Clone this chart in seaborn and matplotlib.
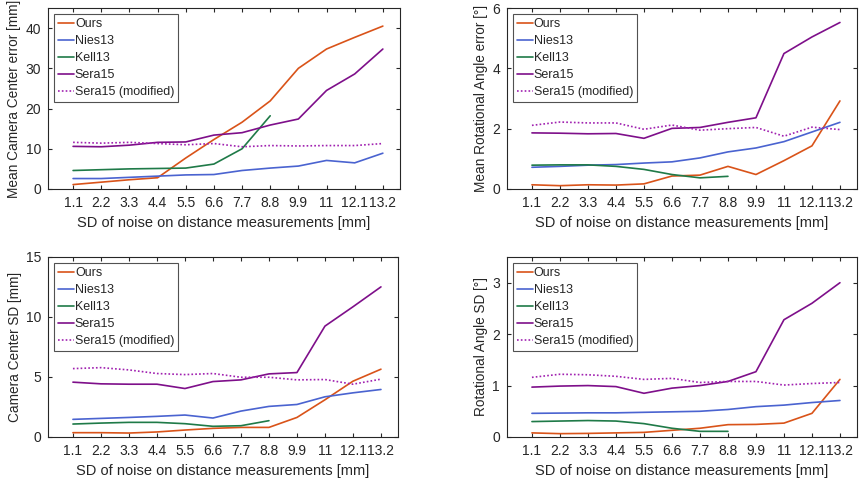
import matplotlib
matplotlib.use("Agg")
import matplotlib.pyplot as plt
import numpy as np
import seaborn as sns

# ── Data ────────────────────────────────────────────────────────────────
noise_sd = [1.1, 2.2, 3.3, 4.4, 5.5, 6.6, 7.7, 8.8, 9.9, 11.0, 12.1, 13.2]
tick_labels = ["1.1", "2.2", "3.3", "4.4", "5.5", "6.6", "7.7", "8.8",
               "9.9", "11", "12.1", "13.2"]

methods = ["Ours", "Nies13", "Kell13", "Sera15", "Sera15 (modified)"]

# Mean camera center error [mm]
cc_mean_ours = [1.1, 1.7, 2.3, 2.8, 7.7, 12.3, 16.6, 21.9, 30.0, 34.8, 37.7, 40.5]
cc_mean_nies = [2.6, 2.6, 2.9, 3.2, 3.5, 3.6, 4.6, 5.2, 5.7, 7.1, 6.5, 8.9]
cc_mean_kell = [4.6, 4.8, 5.0, 5.1, 5.2, 6.2, 10.0, 18.2]
cc_mean_sera = [10.6, 10.5, 10.9, 11.6, 11.7, 13.4, 14.0, 15.9, 17.4, 24.5, 28.6, 34.8]
cc_mean_seram = [11.6, 11.4, 11.6, 11.3, 11.0, 11.3, 10.5, 10.8, 10.7, 10.8, 10.8, 11.3]

# Mean rotational angle error [deg]
ra_mean_ours = [0.14, 0.11, 0.14, 0.13, 0.17, 0.43, 0.46, 0.75, 0.48, 0.94, 1.43, 2.92]
ra_mean_nies = [0.72, 0.75, 0.79, 0.81, 0.86, 0.90, 1.03, 1.23, 1.36, 1.57, 1.89, 2.21]
ra_mean_kell = [0.79, 0.80, 0.80, 0.75, 0.65, 0.48, 0.37, 0.42]
ra_mean_sera = [1.86, 1.85, 1.83, 1.84, 1.68, 2.01, 2.04, 2.21, 2.36, 4.49, 5.04, 5.52]
ra_mean_seram = [2.11, 2.22, 2.19, 2.19, 1.98, 2.12, 1.95, 2.00, 2.04, 1.75, 2.05, 1.97]

# Camera center SD [mm]
cc_sd_ours = [0.36, 0.36, 0.33, 0.42, 0.58, 0.72, 0.80, 0.80, 1.63, 3.1, 4.65, 5.65]
cc_sd_nies = [1.47, 1.55, 1.63, 1.72, 1.83, 1.58, 2.16, 2.55, 2.71, 3.35, 3.68, 3.96]
cc_sd_kell = [1.08, 1.16, 1.22, 1.22, 1.11, 0.89, 0.94, 1.36]
cc_sd_sera = [4.57, 4.43, 4.40, 4.40, 4.04, 4.62, 4.76, 5.26, 5.37, 9.24, 10.85, 12.51]
cc_sd_seram = [5.70, 5.78, 5.59, 5.29, 5.20, 5.29, 4.98, 4.98, 4.76, 4.79, 4.40, 4.82]

# Rotational angle SD [deg]
ra_sd_ours = [0.08, 0.065, 0.07, 0.08, 0.09, 0.13, 0.17, 0.24, 0.245, 0.27, 0.46, 1.12]
ra_sd_nies = [0.46, 0.465, 0.47, 0.47, 0.48, 0.49, 0.50, 0.535, 0.59, 0.62, 0.67, 0.71]
ra_sd_kell = [0.30, 0.31, 0.32, 0.31, 0.26, 0.17, 0.11, 0.11]
ra_sd_sera = [0.97, 0.99, 1.00, 0.98, 0.85, 0.95, 1.00, 1.08, 1.27, 2.28, 2.60, 3.00]
ra_sd_seram = [1.16, 1.22, 1.21, 1.18, 1.12, 1.14, 1.06, 1.08, 1.08, 1.01, 1.04, 1.06]

panels = [
    ("Mean Camera Center error [mm]",
     [cc_mean_ours, cc_mean_nies, cc_mean_kell, cc_mean_sera, cc_mean_seram],
     (0, 45), [0, 10, 20, 30, 40]),
    ("Mean Rotational Angle error [°]",
     [ra_mean_ours, ra_mean_nies, ra_mean_kell, ra_mean_sera, ra_mean_seram],
     (0, 6), [0, 2, 4, 6]),
    ("Camera Center SD [mm]",
     [cc_sd_ours, cc_sd_nies, cc_sd_kell, cc_sd_sera, cc_sd_seram],
     (0, 15), [0, 5, 10, 15]),
    ("Rotational Angle SD [°]",
     [ra_sd_ours, ra_sd_nies, ra_sd_kell, ra_sd_sera, ra_sd_seram],
     (0, 3.5), [0, 1, 2, 3]),
]

# ── Style ───────────────────────────────────────────────────────────────
sns.set_theme(style="white")
plt.rcParams["font.family"] = ["Liberation Sans", "DejaVu Sans"]
text_col = "#262626"
plt.rcParams.update({
    "text.color": text_col, "axes.labelcolor": text_col,
    "xtick.color": text_col, "ytick.color": text_col,
    "axes.edgecolor": text_col,
})

colors = ["#D95319", "#4A63D0", "#1F7A48", "#7E0F8A", "#A020B0"]
styles = ["-", "-", "-", "-", (0, (1, 1.3))]

W, H = 859, 480
fig = plt.figure(figsize=(W / 100, H / 100), dpi=100)

# pixel boxes: left, right, top, bottom
boxes = [(48, 400, 8, 189), (507, 857, 8, 189),
         (48, 398, 257, 437), (507, 857, 257, 437)]

for (ylabel, series, ylim, yticks), (l, r, t, b) in zip(panels, boxes):
    ax = fig.add_axes([l / W, 1 - b / H, (r - l) / W, (b - t) / H])
    for name, vals, c, ls in zip(methods, series, colors, styles):
        sns.lineplot(x=noise_sd[:len(vals)], y=vals, ax=ax, color=c,
                     linestyle=ls, linewidth=1.2, label=name)
    ax.set_xlim(0.12, 13.87)
    ax.set_ylim(*ylim)
    ax.set_xticks(noise_sd)
    ax.set_xticklabels(tick_labels)
    ax.set_yticks(yticks)
    ax.tick_params(direction="in", length=3, width=0.8, labelsize=10,
                   top=True, right=True, bottom=True, left=True, pad=5)
    for sp in ax.spines.values():
        sp.set_linewidth(0.8)
        sp.set_visible(True)
    ax.set_xlabel("SD of noise on distance measurements [mm]", fontsize=10.5)
    ax.set_ylabel(ylabel, fontsize=9.8, labelpad=3)
    leg = ax.legend(loc="upper left", fontsize=9, frameon=True, fancybox=False,
                    handlelength=1.3, handletextpad=0.05, borderpad=0.3,
                    labelspacing=0.4, borderaxespad=0.5)
    leg.get_frame().set_edgecolor(text_col)
    leg.get_frame().set_linewidth(0.8)

fig.savefig("out.png", dpi=100)
